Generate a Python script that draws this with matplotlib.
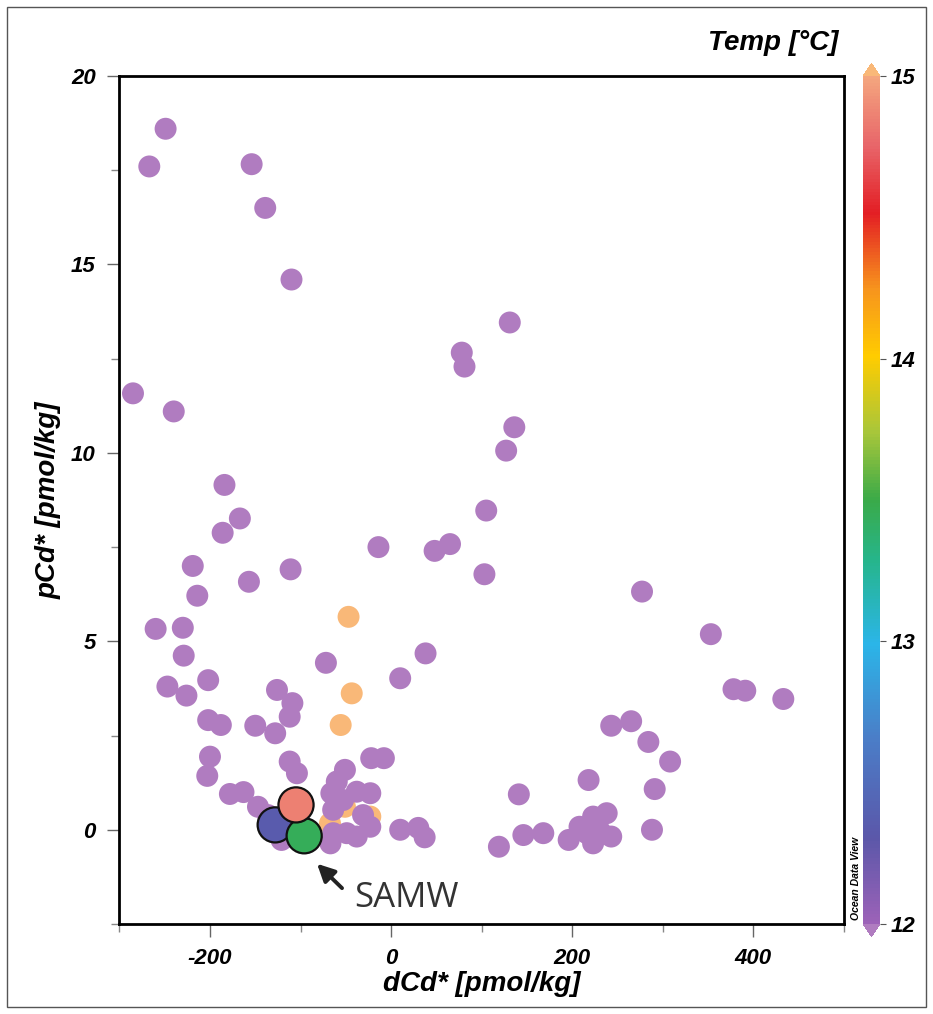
import numpy as np
import matplotlib.pyplot as plt
from matplotlib.colors import LinearSegmentedColormap, Normalize
from matplotlib.patches import Rectangle

# water samples colder than the colour scale (purple, below 12 °C)
cold_dcd = [-249, -267, -154, -139, -110, -285, -240,
            -184, -167, -186, -14, -219, -111, -157, -214, -260, -230, -229, 38, -72, 10,
            -247, -226, -202, -126, -109, -112, -128, -202, -188, -150, -200, -203, -112,
            -22, -8, -51,
            131, 78, 81, 136, 127, 105, 65, 48, 103,
            277, 353, 378, 391, 433, 243, 265, 284, 308, 218, 291, 288,
            141, 119, 146, 168, 196, 208, 223, 238, 243, 223, 216, 231,
            -104, -163, -178, -147, -136, -121,
            -64, -53, -60, -66, -38, -23, -31, -64, -49, -38, -67, -23,
            10, 30, 37]
cold_pcd = [18.6, 17.6, 17.66, 16.5, 14.6, 11.58, 11.1,
            9.15, 8.26, 7.88, 7.5, 7.0, 6.91, 6.58, 6.21, 5.33, 5.36, 4.62, 4.68, 4.43, 4.02,
            3.80, 3.56, 3.97, 3.71, 3.36, 3.0, 2.56, 2.91, 2.78, 2.76, 1.94, 1.43, 1.81,
            1.9, 1.9, 1.59,
            13.46, 12.66, 12.29, 10.68, 10.06, 8.47, 7.58, 7.40, 6.78,
            6.32, 5.19, 3.73, 3.69, 3.47, 2.76, 2.88, 2.33, 1.81, 1.32, 1.08, 0.0,
            0.94, -0.45, -0.14, -0.09, -0.27, 0.08, 0.35, 0.44, -0.18, -0.36, -0.09, -0.05,
            1.50, 1.0, 0.95, 0.61, 0.39, -0.27,
            0.53, 0.79, 1.28, 0.97, 1.01, 0.97, 0.39, -0.09, -0.09, -0.18, -0.36, 0.08,
            0.0, 0.05, -0.2]
cold_temp = 11.5

# warm samples (above 15 °C, peach)
warm_dcd = [-47, -43.5, -55.7, -51, -67.5, -23]
warm_pcd = [5.65, 3.62, 2.78, 0.61, 0.17, 0.35]
warm_temp = 15.5

# SAMW end members
samw_dcd = [-128, -96, -105]
samw_pcd = [0.13, -0.16, 0.66]
samw_temp = [12.35, 13.45, 14.85]

cb_ticks = [12, 13, 14, 15]

# ODV-like palette
odv = LinearSegmentedColormap.from_list("odv", [
    (0.00, "#9c62b8"), (0.10, "#5b57a9"), (0.22, "#4a7ec8"), (0.33, "#2bb5e8"),
    (0.43, "#26b58a"), (0.50, "#3aaa48"), (0.58, "#a8c63a"), (0.67, "#ffcc00"),
    (0.75, "#f7941d"), (0.84, "#e31e24"), (0.92, "#e8666a"), (1.00, "#f4a57e")])
odv.set_under("#b07cc0")
odv.set_over("#f9b878")
norm = Normalize(vmin=12, vmax=15)

plt.rcParams['font.family'] = ['Liberation Sans', 'DejaVu Sans']
plt.rcParams['axes.unicode_minus'] = False

W, H = 933, 1014
fig = plt.figure(figsize=(W / 100, H / 100), dpi=100)

def fx(px):
    return px / W

def fy(py):
    return 1 - py / H

ax = fig.add_axes([fx(119.4), fy(924), fx(844) - fx(119.4), fy(76) - fy(924)])

ax.scatter(warm_dcd, warm_pcd, c=[warm_temp] * len(warm_dcd), cmap=odv, norm=norm,
           s=250, linewidths=0, zorder=2)
ax.scatter(cold_dcd, cold_pcd, c=[cold_temp] * len(cold_dcd), cmap=odv, norm=norm,
           s=250, linewidths=0, zorder=3)
ax.scatter(samw_dcd, samw_pcd, c=samw_temp, cmap=odv, norm=norm,
           s=640, edgecolors='#111111', linewidths=1.6, zorder=4)

ax.annotate('', xy=(-84, -0.85), xytext=(-52, -1.6),
            arrowprops=dict(arrowstyle='-|>', lw=2.8, color='#222222', mutation_scale=26),
            zorder=5)
ax.text(-41, -1.8, 'SAMW', fontsize=25, family='Open Sans', color='#333333',
        va='center', ha='left')

ax.set_xlim(-300, 500)
ax.set_ylim(-2.5, 20)
ax.set_xticks([-200, 0, 200, 400])
ax.set_xticks([-300, -100, 100, 300, 500], minor=True)
ax.set_yticks([0, 5, 10, 15, 20])
ax.set_yticks([-2.5, 2.5, 7.5, 12.5, 17.5], minor=True)
ax.tick_params(which='major', length=9, width=1, color='#666666', pad=8)
ax.tick_params(which='minor', length=6, width=1, color='#888888')
for lab in ax.get_xticklabels() + ax.get_yticklabels():
    lab.set_fontsize(16)
    lab.set_fontweight('bold')
    lab.set_fontstyle('italic')
for sp in ax.spines.values():
    sp.set_linewidth(2)

ax.set_xlabel('dCd* [pmol/kg]', fontsize=20, fontweight='bold', fontstyle='italic')
ax.xaxis.set_label_coords(0.5, -0.055)
ax.set_ylabel('pCd* [pmol/kg]', fontsize=20, fontweight='bold', fontstyle='italic')
ax.yaxis.set_label_coords(-0.08, 0.5)

# colour bar, with triangles beyond 12 and 15
ext = 12.7
cax = fig.add_axes([fx(863), fy(924 + ext), fx(880) - fx(863), fy(76 - ext) - fy(924 + ext)])
sm = plt.cm.ScalarMappable(norm=norm, cmap=odv)
cb = fig.colorbar(sm, cax=cax, extend='both', extendfrac=0.015, ticks=cb_ticks)
cb.outline.set_visible(False)
cb.ax.tick_params(length=4, width=0.8, color='#555555', pad=4)
for lab in cb.ax.get_yticklabels():
    lab.set_fontsize(16)
    lab.set_fontweight('bold')
    lab.set_fontstyle('italic')

fig.text(fx(838), fy(43), 'Temp [°C]', fontsize=20, fontweight='bold', fontstyle='italic',
         ha='right', va='center')
fig.text(fx(856), fy(920), 'Ocean Data View', fontsize=7.5, fontweight='bold',
         fontstyle='italic', rotation=90, ha='center', va='bottom')

fig.patches.append(Rectangle((fx(7), fy(1007)), fx(926) - fx(7), fy(7) - fy(1007),
                             transform=fig.transFigure, fill=False, lw=1, ec='#555555'))

fig.savefig('out.png', dpi=100)
